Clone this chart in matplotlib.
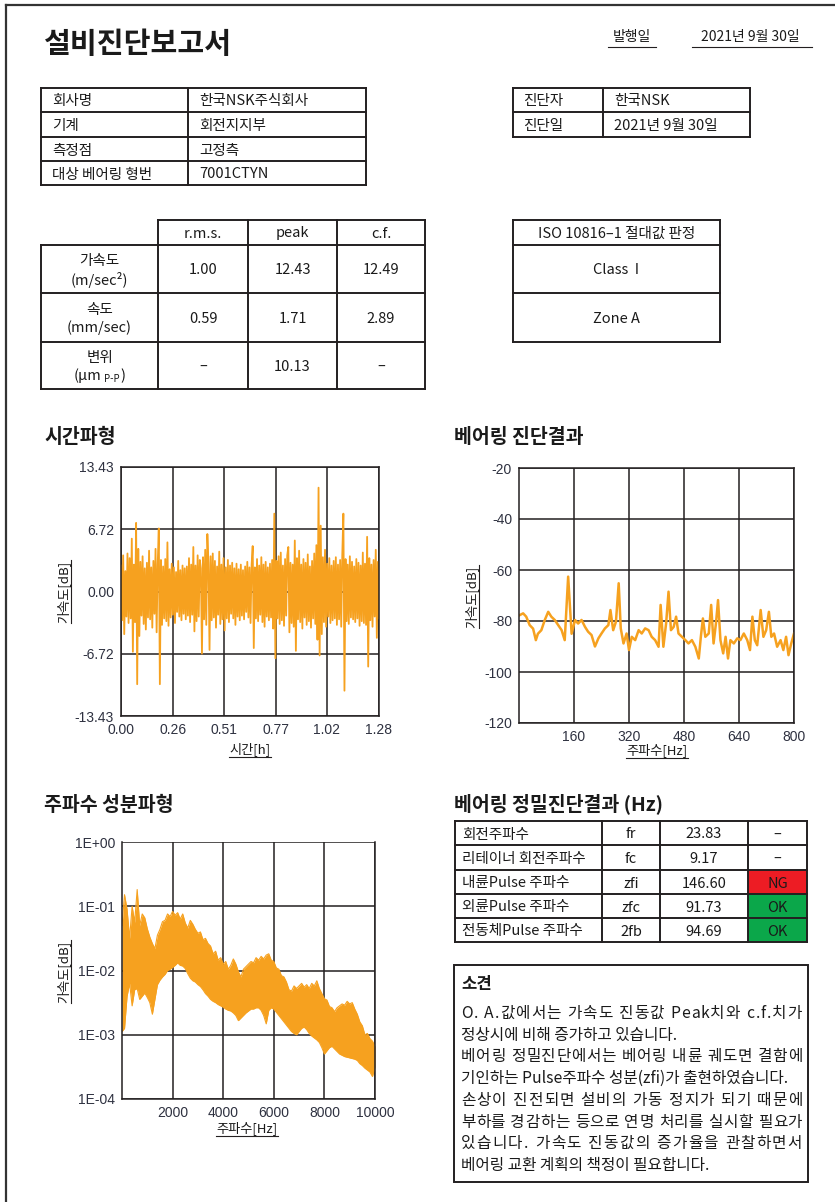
import matplotlib
matplotlib.use('Agg')
import matplotlib.pyplot as plt
import numpy as np
from matplotlib.patches import Rectangle
from matplotlib.ticker import NullLocator

plt.rcParams['font.family'] = ['Noto Sans CJK KR', 'DejaVu Sans']
plt.rcParams['axes.unicode_minus'] = False

W, H = 835, 1202
ORANGE = '#F6A11F'
DARK = '#231f20'
TICK = '#2e3140'
NUMFONT = 'Liberation Sans'

# ---- 표 데이터 ----
info_left = [('회사명', '한국NSK주식회사'), ('기계', '회전지지부'),
             ('측정점', '고정측'), ('대상 베어링 형번', '7001CTYN')]
info_right = [('진단자', '한국NSK'), ('진단일', '2021년 9월 30일')]
meas_cols = ['r.m.s.', 'peak', 'c.f.']
meas_rows = [('가속도', '(m/sec²)'), ('속도', '(mm/sec)'), ('변위', '(μm', 'P-P', ')')]
meas_vals = [['1.00', '12.43', '12.49'],
             ['0.59', '1.71', '2.89'],
             ['–', '10.13', '–']]
iso_rows = ['ISO 10816–1 절대값 판정', 'Class  I', 'Zone A']
bear_names = ['회전주파수', '리테이너 회전주파수', '내륜Pulse 주파수', '외륜Pulse 주파수', '전동체Pulse 주파수']
bear_syms = ['fr', 'fc', 'zfi', 'zfc', '2fb']
bear_freqs = ['23.83', '9.17', '146.60', '91.73', '94.69']
bear_judge = ['–', '–', 'NG', 'OK', 'OK']
# True 인 줄은 양쪽 정렬
remarks = [
    ('O. A.값에서는 가속도 진동값 Peak치와 c.f.치가', True),
    ('정상시에 비해 증가하고 있습니다.', False),
    ('베어링 정밀진단에서는 베어링 내륜 궤도면 결함에', True),
    ('기인하는 Pulse주파수 성분(zfi)가 출현하였습니다.', False),
    ('손상이 진전되면 설비의 가동 정지가 되기 때문에', True),
    ('부하를 경감하는 등으로 연명 처리를 실시할 필요가', True),
    ('있습니다. 가속도 진동값의 증가율을 관찰하면서', True),
    ('베어링 교환 계획의 책정이 필요합니다.', False),
]

# ---- 시간파형 (가속도) ----
time_ticks = [0.00, 0.26, 0.51, 0.77, 1.02, 1.28]
time_yticks = [13.43, 6.72, 0.00, -6.72, -13.43]
time_vals = [
    2.8, -3.1, 3.9, -4.6, 2.2, -2.7, 4.1, -3.4, 3.6, -2.9, 5.7, -6.5, 2.9, -3.3, 7.4, -10.0, 4.6, -4.8, 3.2, -2.6,
    3.8, -3.5, 2.5, -4.1, 3.1, -2.8, 4.4, -3.0, 2.6, -3.9, 3.3, -2.4, 4.6, -4.4, 2.9, 6.8, -10.0, 3.4, -3.6, 2.7,
    -2.9, 3.5, -3.2, 5.3, -3.7, 2.4, -2.8, 3.0, -2.5, 2.6, -3.4, 2.1, -2.2, 3.3, -2.7, 2.3, -3.1, 2.8, -2.4, 2.5,
    -3.0, 2.7, -2.6, 3.6, -3.3, 2.9, -2.5, 4.8, -4.3, 2.8, -3.2, 3.9, -2.7, 3.4, 2.5, -6.7, 3.7, -3.0, 4.5, -3.6,
    6.2, 3.1, -6.3, 3.8, -3.1, 4.1, -2.8, 3.3, -3.9, 2.7, -2.5, 4.3, -3.5, 2.9, -3.0, 3.6, -4.2, 2.6, -2.9, 3.4,
    -3.3, 2.8, -2.4, 3.1, -2.9, 2.5, -3.6, 3.0, -2.7, 2.4, -3.1, 2.9, -2.6, 2.3, -3.0, 2.7, -2.2, 3.2, -2.8, 2.6,
    -3.4, 2.9, 4.9, -6.1, 2.6, -2.9, 3.5, -3.2, 2.8, -2.5, 3.7, -3.3, 2.9, -3.8, 3.2, -2.7, 2.6, -3.1, 3.0, -2.8,
    3.4, -4.0, 8.4, -7.2, 3.3, -2.9, 3.8, -3.5, 4.2, -3.1, 2.8, -3.7, 3.5, -2.6, 3.9, 4.8, -4.4, 3.1, -3.4, 2.9,
    -3.8, 5.5, -6.4, 3.6, -3.0, 4.4, -3.3, 2.9, -4.0, 3.5, -2.8, 3.1, -3.6, 4.0, -3.2, 2.7, -3.9, 3.3, -2.9, 4.1,
    -3.5, 5.0, -5.2, 11.2, -6.9, 7.1, -4.6, 3.7, -3.3, 4.5, -3.8, 3.0, -2.7, 3.6, -3.4, 2.8, -3.1, 3.3, -2.9, 3.7,
    -3.6, 2.9, -3.0, 3.4, -3.8, 4.0, 8.4, -10.7, 3.5, -3.2, 2.9, -3.5, 3.8, -2.8, 3.2, -3.0, 2.7, -3.3, 3.5, -2.9,
    3.1, -3.7, 2.8, -3.2, 4.2, -3.4, 3.0, -3.6, 5.9, -8.1, 3.6, -3.1, 2.9, -3.8, 3.4, -2.7, 4.5, -5.0, 3.2, -2.9,
]

# ---- 베어링 진단결과 (dB) ----
bear_f = [2, 12, 21, 31, 41, 49, 55, 65, 75, 85, 94, 104, 114, 124, 133, 143, 153, 163, 172, 182,
          192, 201, 211, 221, 231, 240, 250, 260, 266, 274, 282, 290, 296, 304, 313, 320, 328, 338, 348, 357,
          367, 377, 386, 396, 406, 412, 420, 428, 435, 442, 450, 457, 464, 474, 484, 493, 503, 513, 523, 529,
          535, 542, 552, 559, 566, 573, 579, 586, 594, 601, 608, 615, 625, 635, 644, 654, 664, 672, 679, 686,
          693, 703, 711, 719, 727, 734, 742, 751, 761, 769, 777, 784, 792, 800]
bear_db = [-77.7, -77.0, -78.3, -81.6, -83.0, -87.5, -85.0, -83.6, -79.6, -76.4, -78.3, -79.6, -81.6, -83.6, -87.5,
           -62.6, -85.0, -79.6, -81.0, -79.6, -82.3, -84.2, -85.5, -90.0, -86.8, -84.9, -82.9, -81.6, -75.7, -83.6,
           -80.3, -65.2, -82.9, -88.8, -84.9, -91.4, -86.2, -87.5, -83.6, -84.9, -82.9, -83.6, -86.2, -87.5, -90.1,
           -73.7, -90.1, -80.9, -68.5, -83.6, -82.3, -78.3, -84.9, -86.2, -87.5, -88.8, -87.5, -90.1, -94.7, -86.2,
           -79.0, -86.2, -84.9, -73.7, -88.8, -80.9, -71.8, -87.5, -92.7, -86.2, -94.7, -87.5, -88.8, -86.8, -87.5,
           -84.9, -87.5, -91.4, -78.3, -87.5, -89.5, -75.7, -86.2, -83.6, -76.4, -86.2, -84.9, -90.1, -87.5, -91.4,
           -86.2, -93.4, -88.8, -84.9]
bear_xticks = [160, 320, 480, 640, 800]
bear_yticks = [-20, -40, -60, -80, -100, -120]

# ---- 주파수 성분파형 (log10 값, 100Hz 간격 상/하한) ----
spec_hi = [-1.30, -0.82, -1.05, -1.50, -1.00, -1.25, -0.74, -1.30, -1.12, -1.18,
           -1.35, -1.48, -1.58, -1.66, -1.45, -1.36, -1.24, -1.22, -1.12, -1.16,
           -1.08, -1.14, -1.10, -1.20, -1.12, -1.26, -1.34, -1.22, -1.28, -1.36,
           -1.42, -1.40, -1.52, -1.50, -1.58, -1.62, -1.74, -1.70, -1.84, -1.80,
           -1.90, -1.86, -1.98, -1.92, -1.82, -1.90, -2.02, -2.10, -1.98, -1.94,
           -1.90, -1.86, -1.88, -1.80, -1.84, -1.78, -1.82, -1.76, -1.74, -1.84,
           -1.86, -1.96, -1.98, -2.08, -2.10, -2.18, -2.30, -2.32, -2.24, -2.28,
           -2.24, -2.20, -2.26, -2.22, -2.28, -2.20, -2.24, -2.16, -2.28, -2.36,
           -2.44, -2.46, -2.56, -2.58, -2.64, -2.58, -2.55, -2.52, -2.54, -2.48,
           -2.52, -2.50, -2.60, -2.68, -2.80, -2.86, -3.00, -2.98, -3.06, -3.10,
           -3.18]
spec_lo = [-2.95, -2.90, -2.40, -2.20, -2.55, -2.30, -2.28, -2.45, -2.40, -2.35,
           -2.42, -2.50, -2.68, -2.45, -2.22, -2.15, -2.10, -2.06, -2.00, -1.98,
           -1.95, -1.92, -1.88, -1.92, -1.93, -1.97, -2.05, -2.12, -2.16, -2.18,
           -2.22, -2.25, -2.30, -2.36, -2.40, -2.45, -2.48, -2.50, -2.53, -2.55,
           -2.57, -2.60, -2.62, -2.63, -2.66, -2.70, -2.78, -2.74, -2.70, -2.66,
           -2.63, -2.60, -2.60, -2.58, -2.58, -2.62, -2.70, -2.83, -2.62, -2.58,
           -2.60, -2.65, -2.70, -2.75, -2.80, -2.85, -2.90, -2.95, -2.98, -3.00,
           -2.95, -2.90, -2.88, -2.92, -2.98, -3.02, -3.05, -3.08, -3.12, -3.20,
           -3.30, -3.25, -3.20, -3.18, -3.22, -3.26, -3.30, -3.32, -3.34, -3.35,
           -3.36, -3.37, -3.38, -3.40, -3.45, -3.48, -3.52, -3.55, -3.58, -3.65,
           -3.50]
spec_xticks = [2000, 4000, 6000, 8000, 10000]
spec_yticks = [1e0, 1e-1, 1e-2, 1e-3, 1e-4]
spec_ylabels = ['1E+00', '1E-01', '1E-02', '1E-03', '1E-04']


fig = plt.figure(figsize=(W / 100, H / 100), dpi=100)
bg = fig.add_axes([0, 0, 1, 1])
bg.set_xlim(0, W)
bg.set_ylim(H, 0)
bg.axis('off')
renderer = fig.canvas.get_renderer()

FS = 10.5  # 표 글자 크기


def line(x0, y0, x1, y1, lw=1.4, color=DARK):
    bg.plot([x0, x1], [y0, y1], color=color, lw=lw, solid_capstyle='projecting')


def txt(x, y, s, size=FS, ha='left', **kw):
    return bg.text(x, y + 1.5, s, fontsize=size, ha=ha, va='center', color='#1a1a1a', **kw)


def extent(t):
    bb = t.get_window_extent(renderer)
    (x0, y0), (x1, y1) = bg.transData.inverted().transform([[bb.x0, bb.y0], [bb.x1, bb.y1]])
    return x0, x1, min(y0, y1), max(y0, y1)


def width_of(s, size):
    tt = txt(0, 0, s, size=size)
    a, b, _, _ = extent(tt)
    tt.remove()
    return b - a


def grid_table(xs, ys):
    for y in ys:
        line(xs[0], y, xs[-1], y)
    for x in xs:
        line(x, ys[0], x, ys[-1])


def ul_text(x, y, s, size=9.5, ha='center', rot=0):
    t = txt(x, y, s, size=size, ha=ha, rotation=rot)
    x0, x1, y0, y1 = extent(t)
    if rot == 0:
        line(x0, y1 + 1, x1, y1 + 1, lw=0.8)
    else:
        line(x1 + 1, y0, x1 + 1, y1, lw=0.8)


# 페이지 테두리
line(6, 5, W, 5, lw=1.6, color='#333333')
line(6, 5, 6, H, lw=1.6, color='#333333')

# 제목
txt(44, 42, '설비진단보고서', size=21, fontweight='bold')
txt(632, 35, '발행일', size=10, ha='center')
line(608, 47, 656, 47, lw=0.8)
txt(750, 35, '2021년 9월 30일', size=10, ha='center')
line(692, 47, 812, 47, lw=0.8)

# 기본 정보 표
ys1 = [88, 112, 137, 161, 185]
grid_table([41, 188, 366], ys1)
for i, (k, v) in enumerate(info_left):
    yc = (ys1[i] + ys1[i + 1]) / 2
    txt(52, yc, k)
    txt(199, yc, v)
ys2 = [88, 112, 137]
grid_table([513, 603, 750], ys2)
for i, (k, v) in enumerate(info_right):
    yc = (ys2[i] + ys2[i + 1]) / 2
    txt(523, yc, k)
    txt(614, yc, v)

# 진동 측정값 표
mx = [41, 158, 248, 337, 425]
my = [220, 245, 293, 342, 389]
line(158, 220, 425, 220)
for y in my[1:]:
    line(41, y, 425, y)
line(41, 245, 41, 389)
for x in mx[1:]:
    line(x, 220, x, 389)
for j, c in enumerate(meas_cols):
    txt((mx[j + 1] + mx[j + 2]) / 2, 232, c, ha='center')
for i, row in enumerate(meas_rows):
    yc = (my[i + 1] + my[i + 2]) / 2
    txt(99.5, yc - 9, row[0], ha='center')
    if len(row) == 2:
        txt(99.5, yc + 9, row[1], ha='center')
    else:
        # (μm P-P) : 아래첨자
        wa, wb, wc = width_of(row[1], FS), width_of(row[2], 7), width_of(row[3], FS)
        x = 99.5 - (wa + wb + wc + 4) / 2
        txt(x, yc + 9, row[1])
        txt(x + wa + 3, yc + 12, row[2], size=7)
        txt(x + wa + wb + 4, yc + 9, row[3])
    for j, v in enumerate(meas_vals[i]):
        txt((mx[j + 1] + mx[j + 2]) / 2, yc, v, ha='center')

# ISO 판정 표
iy = [220, 245, 293, 342]
grid_table([513, 720], iy)
for i, s in enumerate(iso_rows):
    txt(616.5, (iy[i] + iy[i + 1]) / 2, s, ha='center')

# 섹션 제목
for (x, y, s) in [(44, 436, '시간파형'), (454, 436, '베어링 진단결과'),
                  (44, 804, '주파수 성분파형'), (454, 802, '베어링 정밀진단결과 (Hz)')]:
    txt(x, y, s, size=14, fontweight='bold')

# 베어링 정밀진단 표
bx = [455, 602, 660, 748, 807]
by = [821, 845, 870, 894, 918, 942]
judge_color = {'NG': '#ED1C24', 'OK': '#0BA74A'}
for i in range(len(bear_names)):
    if bear_judge[i] in judge_color:
        bg.add_patch(Rectangle((bx[3], by[i]), bx[4] - bx[3], by[i + 1] - by[i],
                               color=judge_color[bear_judge[i]], lw=0))
grid_table(bx, by)
for i in range(len(bear_names)):
    yc = (by[i] + by[i + 1]) / 2
    txt(462, yc, bear_names[i])
    txt((bx[1] + bx[2]) / 2, yc, bear_syms[i], ha='center')
    txt((bx[2] + bx[3]) / 2, yc, bear_freqs[i], ha='center')
    txt((bx[3] + bx[4]) / 2, yc, bear_judge[i], ha='center')

# 소견 (양쪽 정렬은 글자 간격으로 맞춤)
bg.add_patch(Rectangle((454, 965), 354, 217, fill=False, ec=DARK, lw=1.4))
txt(461, 983, '소견', size=12, fontweight='bold')
RFS = 11.3
SPACE_W = 4.5
rx0, rx1 = 461, 802
for k, (s, just) in enumerate(remarks):
    y = 1012 + k * 21.7
    if not just:
        txt(rx0, y, s, size=RFS)
        continue
    chars = list(s)
    widths = [SPACE_W if c == ' ' else width_of(c, RFS) for c in chars]
    extra = (rx1 - rx0 - sum(widths)) / (len(chars) - 1)
    x = rx0
    for c, wd in zip(chars, widths):
        if c != ' ':
            txt(x, y, c, size=RFS)
        x += wd + extra


def px_axes(x0, y0, x1, y1):
    return fig.add_axes([x0 / W, 1 - y1 / H, (x1 - x0) / W, (y1 - y0) / H])


def style(ax, top=True):
    ax.set_axisbelow(True)
    ax.grid(True, color=DARK, lw=1.1)
    ax.tick_params(length=0, pad=5, colors=TICK, labelsize=10)
    for lab in ax.get_xticklabels() + ax.get_yticklabels():
        lab.set_fontfamily(NUMFONT)
    for sp in ax.spines.values():
        sp.set_color(DARK)
        sp.set_linewidth(1.1)
    if not top:
        ax.spines['top'].set_visible(False)


# 시간파형
ax1 = px_axes(121, 467, 379, 716)
t_axis = np.linspace(0, 1.28, len(time_vals))
ax1.plot(t_axis, time_vals, color=ORANGE, lw=1.3)
ax1.set_xlim(0, 1.28)
ax1.set_ylim(-13.43, 13.43)
ax1.set_xticks(time_ticks)
ax1.set_xticklabels(['%.2f' % v for v in time_ticks])
ax1.set_yticks(time_yticks)
ax1.set_yticklabels(['%.2f' % v for v in time_yticks])
style(ax1)
ul_text(63, 590, '가속도[dB]', size=9.5, rot=90)
ul_text(250, 748, '시간[h]', size=9.5)

# 베어링 진단결과
ax2 = px_axes(519, 468, 794, 723)
ax2.plot(bear_f, bear_db, color=ORANGE, lw=1.8)
ax2.set_xlim(0, 800)
ax2.set_ylim(-120, -20)
ax2.set_xticks(bear_xticks)
ax2.set_yticks(bear_yticks)
style(ax2)
ul_text(471, 595, '가속도[dB]', size=9.5, rot=90)
ul_text(657, 749, '주파수[Hz]', size=9.5)

# 주파수 성분파형
ax3 = px_axes(122, 842, 375, 1099)
f_axis = np.linspace(0, 10000, len(spec_hi))
hi = np.power(10.0, spec_hi)
lo = np.power(10.0, spec_lo)
ax3.fill_between(f_axis, lo, hi, color=ORANGE, lw=0)
ax3.plot(f_axis, hi, color=ORANGE, lw=0.8)
ax3.plot(f_axis, lo, color=ORANGE, lw=0.8)
ax3.set_yscale('log')
ax3.set_xlim(0, 10000)
ax3.set_ylim(1e-4, 1)
ax3.set_xticks(spec_xticks)
ax3.set_yticks(spec_yticks)
ax3.set_yticklabels(spec_ylabels)
ax3.yaxis.set_minor_locator(NullLocator())
style(ax3, top=False)
ul_text(63, 970, '가속도[dB]', size=9.5, rot=90)
ul_text(247, 1127, '주파수[Hz]', size=9.5)

fig.savefig('out.png', dpi=100, facecolor='white')
